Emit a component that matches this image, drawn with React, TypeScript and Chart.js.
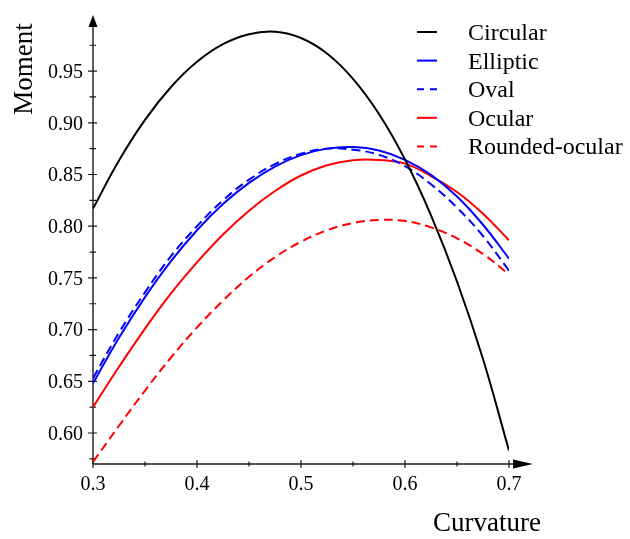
import { useEffect, useRef } from "react";
import { Chart, registerables } from "chart.js";

Chart.register(...registerables);

// ---- data ----
const CURVATURE = [0.3, 0.325, 0.35, 0.375, 0.4, 0.425, 0.45, 0.475, 0.5, 0.525, 0.55, 0.575, 0.6, 0.625, 0.65, 0.675, 0.7];
const CIRCULAR = [0.817, 0.8635, 0.9028, 0.9346, 0.959, 0.976, 0.9856, 0.988, 0.982, 0.967, 0.9425, 0.9085, 0.8645, 0.8105, 0.7465, 0.6715, 0.583];
const ELLIPTIC = [0.648, 0.692, 0.7314, 0.7662, 0.7961, 0.8214, 0.8419, 0.8577, 0.8687, 0.875, 0.8765, 0.8732, 0.8642, 0.8496, 0.8287, 0.8014, 0.7687];
const OVAL = [0.653, 0.697, 0.736, 0.771, 0.8, 0.825, 0.845, 0.86, 0.87, 0.875, 0.874, 0.869, 0.858, 0.8405, 0.818, 0.7905, 0.757];
const OCULAR = [0.625, 0.664, 0.701, 0.735, 0.765, 0.792, 0.815, 0.834, 0.849, 0.859, 0.8638, 0.864, 0.8605, 0.8485, 0.833, 0.812, 0.7864];
const ROUNDED_OCULAR = [0.572, 0.607, 0.641, 0.673, 0.702, 0.728, 0.751, 0.77, 0.785, 0.796, 0.803, 0.806, 0.805, 0.7988, 0.7883, 0.7731, 0.7535];
const SERIES_NAMES = ["Circular", "Elliptic", "Oval", "Ocular", "Rounded-ocular"];

const X_MAJOR = [0.3, 0.4, 0.5, 0.6, 0.7];
const X_MINOR = [0.35, 0.45, 0.55, 0.65];
const Y_MAJOR = [0.6, 0.65, 0.7, 0.75, 0.8, 0.85, 0.9, 0.95];
const Y_MINOR = [0.575, 0.625, 0.675, 0.725, 0.775, 0.825, 0.875, 0.925, 0.975];
const X_MIN = 0.3;
const X_MAX = 0.7;
const Y_MIN = 0.57;
const Y_MAX = 0.9907;
const X_TITLE = "Curvature";
const Y_TITLE = "Moment";

const SERIF = "'Liberation Serif', 'Times New Roman', serif";

const toPoints = (vals: number[]) => vals.map((v, i) => ({ x: CURVATURE[i], y: v }));

const axesPlugin = {
  id: "mapleAxes",
  beforeDatasetsDraw(chart: any) {
    const { ctx, scales } = chart;
    const xs = scales.x;
    const ys = scales.y;
    const x0 = xs.getPixelForValue(X_MIN);
    const y0 = ys.getPixelForValue(Y_MIN);
    const yTop = ys.getPixelForValue(Y_MAX);
    const xRight = xs.getPixelForValue(X_MAX);
    ctx.save();
    ctx.strokeStyle = "#1a1a1a";
    ctx.fillStyle = "#000";
    ctx.lineWidth = 1.4;
    // y axis line
    ctx.beginPath();
    ctx.moveTo(x0, y0);
    ctx.lineTo(x0, yTop - 2);
    ctx.stroke();
    // y arrow
    ctx.beginPath();
    ctx.moveTo(x0, yTop - 14);
    ctx.lineTo(x0 - 4.5, yTop - 2);
    ctx.lineTo(x0 + 4.5, yTop - 2);
    ctx.closePath();
    ctx.fill();
    // x axis line
    ctx.beginPath();
    ctx.moveTo(x0, y0);
    ctx.lineTo(xRight + 5, y0);
    ctx.stroke();
    // x arrow
    ctx.beginPath();
    ctx.moveTo(xRight + 24, y0);
    ctx.lineTo(xRight + 4, y0 - 4.5);
    ctx.lineTo(xRight + 4, y0 + 4.5);
    ctx.closePath();
    ctx.fill();
    // ticks
    ctx.lineWidth = 1.2;
    ctx.beginPath();
    Y_MAJOR.forEach((v) => {
      const p = ys.getPixelForValue(v);
      ctx.moveTo(x0 - 5, p);
      ctx.lineTo(x0 + 4, p);
    });
    Y_MINOR.forEach((v) => {
      const p = ys.getPixelForValue(v);
      ctx.moveTo(x0 - 3.5, p);
      ctx.lineTo(x0 + 3, p);
    });
    X_MAJOR.forEach((v) => {
      const p = xs.getPixelForValue(v);
      ctx.moveTo(p, y0 - 4);
      ctx.lineTo(p, y0 + 4);
    });
    X_MINOR.forEach((v) => {
      const p = xs.getPixelForValue(v);
      ctx.moveTo(p, y0 - 2.5);
      ctx.lineTo(p, y0 + 2.5);
    });
    ctx.stroke();
    ctx.restore();
  },
  afterDraw(chart: any) {
    const { ctx } = chart;
    ctx.save();
    // legend
    chart.data.datasets.forEach((ds: any, i: number) => {
      const ly = 32 + 28.6 * i;
      ctx.strokeStyle = ds.borderColor;
      ctx.lineWidth = 2;
      ctx.setLineDash(ds.borderDash && ds.borderDash.length ? [7, 6] : []);
      ctx.beginPath();
      ctx.moveTo(417, ly);
      ctx.lineTo(437, ly);
      ctx.stroke();
      ctx.setLineDash([]);
      ctx.fillStyle = "#000";
      ctx.font = `24px ${SERIF}`;
      ctx.textAlign = "left";
      ctx.textBaseline = "alphabetic";
      ctx.fillText(ds.label, 468, ly + 8);
    });
    // axis titles
    ctx.fillStyle = "#000";
    ctx.font = `27px ${SERIF}`;
    ctx.textAlign = "center";
    ctx.textBaseline = "alphabetic";
    ctx.fillText(X_TITLE, 487, 531);
    ctx.translate(32, 69);
    ctx.rotate(-Math.PI / 2);
    ctx.fillText(Y_TITLE, 0, 0);
    ctx.restore();
  },
};

export default function App() {
  const ref = useRef<HTMLCanvasElement>(null);
  useEffect(() => {
    if (!ref.current) return;
    const seriesValues = [CIRCULAR, ELLIPTIC, OVAL, OCULAR, ROUNDED_OCULAR];
    const colors = ["#000000", "#0000ff", "#0000ff", "#ff0000", "#ff0000"];
    const dashed = [false, false, true, false, true];
    const chart = new Chart(ref.current, {
      type: "line",
      data: {
        datasets: seriesValues.map((vals, i) => ({
          label: SERIES_NAMES[i],
          data: toPoints(vals),
          borderColor: colors[i],
          backgroundColor: colors[i],
          borderWidth: 2,
          borderDash: dashed[i] ? [9, 5] : [],
          pointRadius: 0,
          tension: 0.4,
          fill: false,
        })),
      },
      options: {
        animation: false,
        responsive: true,
        maintainAspectRatio: false,
        layout: { padding: { top: 29, right: 121, left: 0, bottom: 0 } },
        plugins: { legend: { display: false }, tooltip: { enabled: false } },
        scales: {
          x: {
            type: "linear",
            min: X_MIN,
            max: X_MAX,
            grid: { display: false, drawTicks: false },
            border: { display: false },
            afterBuildTicks: (s: any) => {
              s.ticks = X_MAJOR.map((v) => ({ value: v }));
            },
            afterFit: (s: any) => {
              s.height = 75;
            },
            ticks: {
              padding: 9,
              color: "#000",
              font: { family: SERIF, size: 20 },
              maxRotation: 0,
              callback: (v: any) => Number(v).toFixed(1),
            },
          },
          y: {
            type: "linear",
            min: Y_MIN,
            max: Y_MAX,
            grid: { display: false, drawTicks: false },
            border: { display: false },
            afterBuildTicks: (s: any) => {
              s.ticks = Y_MAJOR.map((v) => ({ value: v }));
            },
            afterFit: (s: any) => {
              s.width = 93;
            },
            ticks: {
              padding: 10,
              labelOffset: 1.5,
              color: "#000",
              font: { family: SERIF, size: 20 },
              callback: (v: any) => Number(v).toFixed(2),
            },
          },
        },
      },
      plugins: [axesPlugin],
    } as any);
    return () => chart.destroy();
  }, []);
  return (
    <div style={{ position: "fixed", left: 0, top: 0, width: 630, height: 539, background: "#fff" }}>
      <canvas ref={ref} />
    </div>
  );
}
